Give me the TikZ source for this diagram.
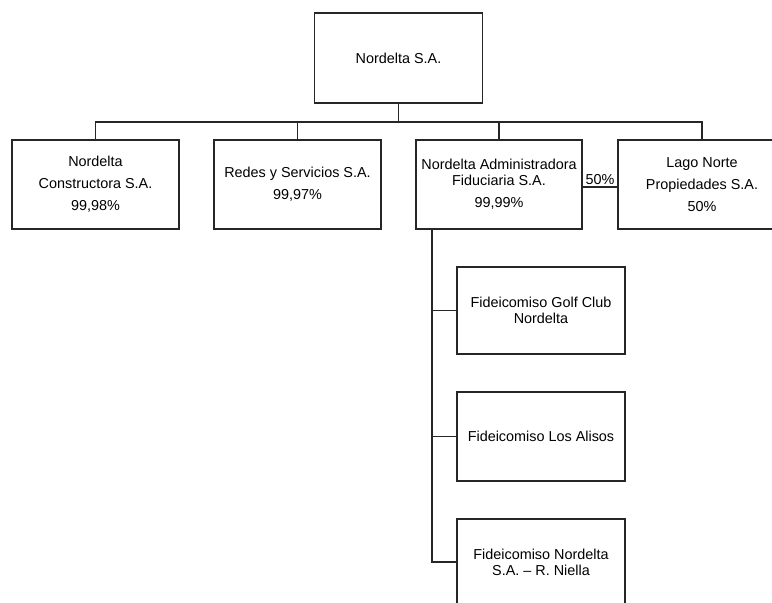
\documentclass[tikz,border=0pt]{standalone}
\usepackage{fontspec}
\setmainfont{Liberation Sans}
\usepackage{tikz}
\usetikzlibrary{positioning, calc}
\tikzset{
    box/.style={rectangle, draw=black!85, line width=1.3pt, fill=white, inner sep=0pt, minimum width=167pt, minimum height=89pt, align=center, font=\fontsize{14.4}{22}\selectfont},
    fidbox/.style={box, minimum width=168pt, font=\fontsize{14.4}{16}\selectfont},
    line/.style={draw=black!85, line width=1.3pt}
}

\begin{document}
\begin{tikzpicture}[x=1pt, y=-1pt]
        \clip (0,0) rectangle (772,603);

        \node[box, minimum width=168pt, minimum height=90pt] (nordelta) at (398.5,58) {Nordelta S.A.};

        \node[box] (constructora) at (95.5,184.5) {Nordelta\\Constructora S.A.\\99,98\%};
        \node[box] (redes) at (297.5,184.5) {Redes y Servicios S.A.\\99,97\%};
        \node[box, minimum width=166pt, font=\fontsize{14.4}{16}\selectfont] (fiduciaria) at (499,184.5) {Nordelta Administradora\\Fiduciaria S.A.\\[6pt]99,99\%};
        \node[box, minimum width=168pt] (lagonorte) at (702,184.5) {Lago Norte\\Propiedades S.A.\\50\%};

        \coordinate (bus) at (398.5,122);
        \draw[line] (nordelta) -- (bus);
        \draw[line] (bus) -| (constructora);
        \draw[line] (bus) -| (redes);
        \draw[line] (bus) -| (fiduciaria);
        \draw[line] (bus) -| (lagonorte);

        \draw[line] (fiduciaria.east |- 0,187) -- node[above, inner sep=1.5pt, font=\fontsize{14.4}{16}\selectfont] (pct) {50\%} (lagonorte.west |- 0,187);

        % fideicomisos
        \node[fidbox, minimum height=87pt] (golfclub) at (541,310.5) {Fideicomiso Golf Club\\Nordelta};
        \node[fidbox] (alisos) at (541,436.5) {Fideicomiso Los Alisos};
        \node[fidbox, minimum height=86pt] (niella) at (541,562) {Fideicomiso Nordelta\\S.A. -- R. Niella};

        \coordinate (trunk) at (432,229);
        \draw[line] (trunk) |- (niella);
        \draw[line] (trunk |- golfclub) -- (golfclub);
        \draw[line] (trunk |- alisos) -- (alisos);
    \end{tikzpicture}
\end{document}
